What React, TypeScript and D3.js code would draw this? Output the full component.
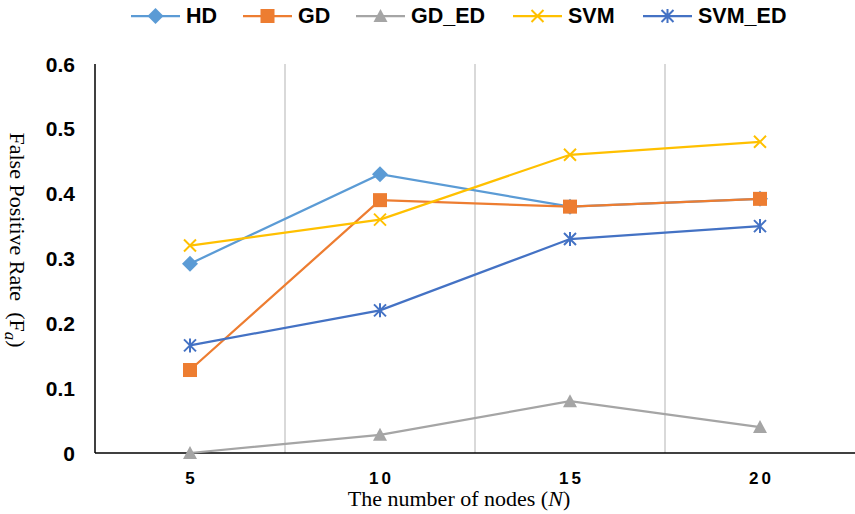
import { useEffect, useRef } from 'react';
import * as d3 from 'd3';

const categories = ['5', '10', '15', '20'];
const hd = [0.292, 0.43, 0.38, 0.392];
const gd = [0.128, 0.39, 0.38, 0.392];
const gdEd = [0, 0.028, 0.08, 0.04];
const svm = [0.32, 0.36, 0.46, 0.48];
const svmEd = [0.166, 0.22, 0.33, 0.35];
const yTicks = [0, 0.1, 0.2, 0.3, 0.4, 0.5, 0.6];

const series = [
  { name: 'HD', values: hd, color: '#5B9BD5', marker: 'diamond' },
  { name: 'GD', values: gd, color: '#ED7D31', marker: 'square' },
  { name: 'GD_ED', values: gdEd, color: '#A5A5A5', marker: 'triangle' },
  { name: 'SVM', values: svm, color: '#FFC000', marker: 'x' },
  { name: 'SVM_ED', values: svmEd, color: '#4472C4', marker: 'star' },
];

function drawMarker(g: any, type: string, x: number, y: number, color: string) {
  if (type === 'diamond') {
    g.append('path').attr('d', `M${x},${y - 8}L${x + 8},${y}L${x},${y + 8}L${x - 8},${y}Z`).attr('fill', color);
  } else if (type === 'square') {
    g.append('rect').attr('x', x - 7).attr('y', y - 7).attr('width', 14).attr('height', 14).attr('fill', color);
  } else if (type === 'triangle') {
    g.append('path').attr('d', `M${x},${y - 7}L${x + 7},${y + 6}L${x - 7},${y + 6}Z`).attr('fill', color);
  } else if (type === 'x') {
    const r = 6;
    g.append('path')
      .attr('d', `M${x - r},${y - r}L${x + r},${y + r}M${x - r},${y + r}L${x + r},${y - r}`)
      .attr('stroke', color).attr('stroke-width', 2);
  } else if (type === 'star') {
    const r = 6;
    g.append('path')
      .attr('d', `M${x - r},${y - r}L${x + r},${y + r}M${x - r},${y + r}L${x + r},${y - r}M${x},${y - r - 1}L${x},${y + r + 1}`)
      .attr('stroke', color).attr('stroke-width', 2);
  }
}

export default function App() {
  const svgRef = useRef<SVGSVGElement>(null);
  const width = 855;
  const height = 514;

  useEffect(() => {
    const svg = d3.select(svgRef.current);
    svg.selectAll('*').remove();

    const left = 95, right = 855, top = 64, bottom = 453;

    const x = d3.scaleBand().domain(categories).range([left, right]);
    const y = d3.scaleLinear().domain([0, 0.6]).range([bottom, top]);

    // vertical separators between categories
    categories.slice(1).forEach(c => {
      svg.append('line')
        .attr('x1', x(c)!).attr('x2', x(c)!)
        .attr('y1', top).attr('y2', bottom)
        .attr('stroke', '#D9D9D9').attr('stroke-width', 2);
    });

    // axes
    svg.append('line').attr('x1', left).attr('x2', left).attr('y1', top).attr('y2', bottom)
      .attr('stroke', '#000').attr('stroke-width', 1.5);
    svg.append('line').attr('x1', left).attr('x2', right).attr('y1', bottom).attr('y2', bottom)
      .attr('stroke', '#000').attr('stroke-width', 1.5);

    yTicks.forEach(t => {
      svg.append('text')
        .attr('x', 75).attr('y', y(t))
        .attr('text-anchor', 'end').attr('dominant-baseline', 'central')
        .attr('font-family', 'Liberation Sans, Arial, sans-serif')
        .attr('font-weight', 'bold').attr('font-size', 21)
        .text(t === 0 ? '0' : d3.format('.1f')(t));
    });

    categories.forEach(c => {
      svg.append('text')
        .attr('x', x(c)! + x.bandwidth() / 2 + 1.5).attr('y', 478)
        .attr('text-anchor', 'middle').attr('dominant-baseline', 'central')
        .attr('font-family', 'Liberation Sans, Arial, sans-serif')
        .attr('font-weight', 'bold').attr('font-size', 17)
        .attr('letter-spacing', 3)
        .text(c);
    });

    // axis titles
    svg.append('text')
      .attr('x', 459).attr('y', 506)
      .attr('text-anchor', 'middle')
      .attr('font-family', 'Liberation Serif, Times New Roman, serif')
      .attr('font-size', 22)
      .html('The number of nodes (<tspan font-style="italic">N</tspan>)');

    svg.append('text')
      .attr('transform', 'translate(10,240) rotate(90)')
      .attr('text-anchor', 'middle')
      .attr('font-family', 'Liberation Serif, Times New Roman, serif')
      .attr('font-size', 22)
      .html('False Positive Rate &#160;(F<tspan font-style="italic" dy="5" font-size="17">a</tspan><tspan dy="-5">)</tspan>');

    // series
    const line = d3.line<number>()
      .x((_, i) => x(categories[i])! + x.bandwidth() / 2)
      .y(d => y(d));

    series.forEach(s => {
      svg.append('path')
        .attr('d', line(s.values))
        .attr('fill', 'none')
        .attr('stroke', s.color)
        .attr('stroke-width', 2.25);
      const mg = svg.append('g');
      s.values.forEach((v, i) => {
        drawMarker(mg, s.marker, x(categories[i])! + x.bandwidth() / 2, y(v), s.color);
      });
    });

    // legend
    const legendX = [131, 243, 356, 513, 643];
    series.forEach((s, i) => {
      const lx = legendX[i];
      const lg = svg.append('g');
      lg.append('line').attr('x1', lx).attr('x2', lx + 49).attr('y1', 16).attr('y2', 16)
        .attr('stroke', s.color).attr('stroke-width', 2.25);
      drawMarker(lg, s.marker, lx + 24.5, 16, s.color);
      lg.append('text')
        .attr('x', lx + 55).attr('y', 16)
        .attr('dominant-baseline', 'central')
        .attr('font-family', 'Liberation Sans, Arial, sans-serif')
        .attr('font-weight', 'bold').attr('font-size', 21.5)
        .text(s.name);
    });
  }, []);

  return (
    <svg ref={svgRef} width={width} height={height}
      style={{ position: 'absolute', left: 0, top: 0, display: 'block' }}></svg>
  );
}
